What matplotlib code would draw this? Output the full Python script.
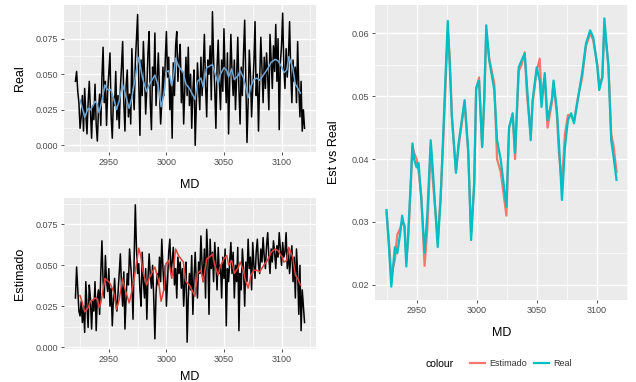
import numpy as np
import matplotlib
matplotlib.use("Agg")
import matplotlib.pyplot as plt
from matplotlib.lines import Line2D

plt.rcParams['font.family'] = ['Liberation Sans', 'DejaVu Sans']

# raw logs, one sample per foot
md_raw = np.arange(2921, 3121)
real_raw = [
    0.045, 0.052, 0.038, 0.030, 0.012, 0.020, 0.035, 0.010, 0.040, 0.022,
    0.008, 0.030, 0.045, 0.025, 0.005, 0.028, 0.018, 0.043, 0.015, 0.003,
    0.025, 0.036, 0.014, 0.048, 0.069, 0.030, 0.045, 0.014, 0.038, 0.052,
    0.065, 0.020, 0.005, 0.034, 0.028, 0.052, 0.018, 0.035, 0.012, 0.040,
    0.055, 0.073, 0.030, 0.010, 0.042, 0.053, 0.020, 0.036, 0.015, 0.068,
    0.040, 0.025, 0.058, 0.075, 0.092, 0.045, 0.007, 0.060, 0.035, 0.073,
    0.050, 0.022, 0.040, 0.065, 0.080, 0.030, 0.011, 0.055, 0.042, 0.079,
    0.028, 0.046, 0.065, 0.038, 0.015, 0.030, 0.055, 0.035, 0.060, 0.080,
    0.048, 0.062, 0.025, 0.044, 0.005, 0.058, 0.035, 0.070, 0.080, 0.045,
    0.060, 0.071, 0.030, 0.052, 0.015, 0.040, 0.062, 0.035, 0.069, 0.028,
    0.050, 0.012, 0.038, 0.053, 0.000, 0.030, 0.058, 0.040, 0.025, 0.062,
    0.035, 0.055, 0.078, 0.042, 0.020, 0.060, 0.050, 0.070, 0.032, 0.094,
    0.060, 0.040, 0.012, 0.055, 0.074, 0.045, 0.025, 0.060, 0.038, 0.082,
    0.050, 0.030, 0.065, 0.008, 0.045, 0.078, 0.052, 0.035, 0.060, 0.025,
    0.048, 0.076, 0.040, 0.015, 0.055, 0.035, 0.065, 0.088, 0.045, 0.002,
    0.030, 0.067, 0.050, 0.020, 0.040, 0.058, 0.087, 0.035, 0.050, 0.010,
    0.045, 0.076, 0.055, 0.030, 0.062, 0.040, 0.065, 0.048, 0.025, 0.078,
    0.060, 0.040, 0.070, 0.052, 0.085, 0.045, 0.075, 0.011, 0.058, 0.070,
    0.093, 0.055, 0.040, 0.068, 0.048, 0.062, 0.087, 0.052, 0.030, 0.060,
    0.045, 0.055, 0.030, 0.073, 0.040, 0.020, 0.045, 0.010, 0.025, 0.012,
]
est_raw = [
    0.030, 0.049, 0.035, 0.022, 0.019, 0.028, 0.015, 0.025, 0.009, 0.040,
    0.025, 0.012, 0.038, 0.030, 0.011, 0.028, 0.022, 0.040, 0.010, 0.030,
    0.035, 0.020, 0.045, 0.065, 0.040, 0.030, 0.056, 0.040, 0.034, 0.048,
    0.025, 0.036, 0.013, 0.030, 0.042, 0.028, 0.022, 0.033, 0.045, 0.057,
    0.038, 0.025, 0.046, 0.011, 0.030, 0.045, 0.038, 0.060, 0.050, 0.040,
    0.017, 0.055, 0.087, 0.060, 0.045, 0.051, 0.035, 0.025, 0.058, 0.040,
    0.030, 0.048, 0.017, 0.042, 0.057, 0.044, 0.036, 0.050, 0.030, 0.005,
    0.033, 0.045, 0.038, 0.055, 0.040, 0.066, 0.048, 0.035, 0.050, 0.025,
    0.040, 0.058, 0.066, 0.045, 0.052, 0.061, 0.038, 0.048, 0.030, 0.055,
    0.045, 0.052, 0.036, 0.048, 0.025, 0.040, 0.052, 0.003, 0.030, 0.045,
    0.035, 0.056, 0.020, 0.042, 0.058, 0.040, 0.030, 0.052, 0.045, 0.068,
    0.050, 0.040, 0.060, 0.030, 0.072, 0.055, 0.020, 0.066, 0.048, 0.058,
    0.040, 0.064, 0.052, 0.035, 0.061, 0.045, 0.050, 0.030, 0.055, 0.042,
    0.060, 0.013, 0.048, 0.040, 0.052, 0.064, 0.045, 0.058, 0.030, 0.050,
    0.040, 0.061, 0.010, 0.045, 0.035, 0.060, 0.048, 0.025, 0.052, 0.040,
    0.066, 0.048, 0.055, 0.035, 0.064, 0.050, 0.042, 0.058, 0.066, 0.050,
    0.045, 0.060, 0.052, 0.067, 0.055, 0.048, 0.062, 0.070, 0.055, 0.045,
    0.060, 0.052, 0.065, 0.058, 0.048, 0.062, 0.055, 0.070, 0.060, 0.050,
    0.064, 0.055, 0.058, 0.070, 0.048, 0.060, 0.045, 0.054, 0.062, 0.040,
    0.055, 0.030, 0.060, 0.045, 0.020, 0.050, 0.010, 0.035, 0.025, 0.015,
]

# smoothed curves
md_smooth = [
    2925, 2927, 2929, 2932, 2934, 2936.5, 2938, 2940, 2941.5, 2943,
    2945, 2946.6, 2948, 2950, 2951.7, 2954, 2956.7, 2959, 2961.8, 2963.4,
    2966, 2967.6, 2970, 2972, 2974.4, 2976, 2977.7, 2979.4, 2982.8, 2985,
    2990, 2993, 2995.4, 2998, 2999.6, 3002, 3004.6, 3006.3, 3008, 3010.5,
    3014.7, 3017, 3020, 3024.8, 3027, 3030, 3032, 3035, 3037.4, 3040,
    3042, 3045, 3046.6, 3050, 3052.5, 3054, 3056.7, 3059, 3062.6, 3064,
    3066.8, 3068.5, 3071, 3073.5, 3076, 3078.6, 3081, 3084.5, 3087.8, 3091,
    3094.5, 3097, 3100.5, 3102, 3104.6, 3106.3, 3109.7, 3112, 3114, 3116.4,
]
real_smooth = [
    0.0319, 0.0260, 0.0197, 0.0260, 0.0250, 0.0283, 0.0310, 0.0290, 0.0229, 0.0280,
    0.0356, 0.0425, 0.0400, 0.0387, 0.0394, 0.0335, 0.0251, 0.0314, 0.0430, 0.0387,
    0.0308, 0.0260, 0.0335, 0.0430, 0.0546, 0.0620, 0.0546, 0.0467, 0.0378, 0.0425,
    0.0494, 0.0414, 0.0271, 0.0362, 0.0514, 0.0525, 0.0419, 0.0494, 0.0613, 0.0557,
    0.0510, 0.0430, 0.0400, 0.0324, 0.0450, 0.0473, 0.0410, 0.0546, 0.0557, 0.0568,
    0.0514, 0.0430, 0.0494, 0.0546, 0.0525, 0.0483, 0.0537, 0.0462, 0.0494, 0.0525,
    0.0478, 0.0425, 0.0335, 0.0419, 0.0462, 0.0473, 0.0457, 0.0498, 0.0537, 0.0584,
    0.0605, 0.0594, 0.0546, 0.0510, 0.0530, 0.0624, 0.0546, 0.0430, 0.0403, 0.0367,
]
est_smooth = [
    0.0315, 0.0270, 0.0215, 0.0240, 0.0280, 0.0290, 0.0300, 0.0295, 0.0240, 0.0270,
    0.0350, 0.0420, 0.0410, 0.0400, 0.0380, 0.0340, 0.0230, 0.0290, 0.0420, 0.0370,
    0.0310, 0.0270, 0.0340, 0.0420, 0.0530, 0.0605, 0.0560, 0.0470, 0.0380, 0.0420,
    0.0490, 0.0410, 0.0280, 0.0360, 0.0510, 0.0530, 0.0420, 0.0490, 0.0600, 0.0560,
    0.0520, 0.0400, 0.0380, 0.0310, 0.0450, 0.0470, 0.0400, 0.0540, 0.0550, 0.0570,
    0.0500, 0.0440, 0.0490, 0.0540, 0.0560, 0.0500, 0.0530, 0.0450, 0.0490, 0.0520,
    0.0470, 0.0410, 0.0360, 0.0440, 0.0470, 0.0470, 0.0460, 0.0500, 0.0530, 0.0580,
    0.0600, 0.0590, 0.0550, 0.0520, 0.0530, 0.0610, 0.0550, 0.0440, 0.0420, 0.0380,
]

md_ticks = [2950, 3000, 3050, 3100]

W, H = 636, 382
fig = plt.figure(figsize=(W / 100, H / 100), dpi=100)


def box(l, t, r, b):
    return [l / W, 1 - b / H, (r - l) / W, (b - t) / H]


def gg_style(ax, yticks):
    ax.set_facecolor('#EBEBEB')
    for s in ax.spines.values():
        s.set_visible(False)
    ax.set_xticks(md_ticks)
    ax.set_yticks(yticks)
    ax.set_xticks([t + 25 for t in [2900] + md_ticks], minor=True)
    step = yticks[1] - yticks[0]
    ax.set_yticks([yticks[0] - step / 2] + [t + step / 2 for t in yticks], minor=True)
    ax.grid(which='major', color='white', lw=1.0)
    ax.grid(which='minor', color='white', lw=0.5)
    ax.set_axisbelow(True)
    ax.tick_params(which='major', length=2.5, width=0.6, color='#333333',
                   labelsize=6.5, labelcolor='#4D4D4D', pad=2)
    ax.tick_params(which='minor', length=0)


def expand(vals, f=0.05):
    lo, hi = min(vals), max(vals)
    d = (hi - lo) * f
    return lo - d, hi + d


# top left: Real
ax1 = fig.add_axes(box(64, 5, 316, 152))
ax1.plot(md_raw, real_raw, color='black', lw=1.1)
ax1.plot(md_smooth, real_smooth, color='#6FA8D6', lw=1.1)
gg_style(ax1, [0.000, 0.025, 0.050, 0.075])
ax1.set_yticklabels(['0.000', '0.025', '0.050', '0.075'])
ax1.set_xlim(expand(md_raw))
ax1.set_ylim(expand(real_raw))
ax1.set_xlabel('MD', fontsize=9)
ax1.set_ylabel('Real', fontsize=9)
ax1.xaxis.set_label_coords(0.5, -0.185)
ax1.yaxis.set_label_coords(-0.15, 0.5)

# bottom left: Estimado
ax2 = fig.add_axes(box(64, 198, 316, 349))
ax2.plot(md_raw, est_raw, color='black', lw=1.1)
ax2.plot(md_smooth, est_smooth, color='#E0413A', lw=1.1)
gg_style(ax2, [0.000, 0.025, 0.050, 0.075])
ax2.set_yticklabels(['0.000', '0.025', '0.050', '0.075'])
ax2.set_xlim(expand(md_raw))
ax2.set_ylim(expand(est_raw))
ax2.set_xlabel('MD', fontsize=9)
ax2.set_ylabel('Estimado', fontsize=9)
ax2.xaxis.set_label_coords(0.5, -0.145)
ax2.yaxis.set_label_coords(-0.15, 0.5)

# right: Est vs Real
ax3 = fig.add_axes(box(375, 5, 628, 300))
ax3.plot(md_smooth, est_smooth, color='#F8766D', lw=1.6)
ax3.plot(md_smooth, real_smooth, color='#00BFC4', lw=1.6)
gg_style(ax3, [0.02, 0.03, 0.04, 0.05, 0.06])
ax3.set_yticklabels(['0.02', '0.03', '0.04', '0.05', '0.06'])
ax3.set_xlim(expand(md_smooth))
ax3.set_ylim(expand(real_smooth + est_smooth))
ax3.set_xlabel('MD', fontsize=9)
ax3.set_ylabel('Est vs Real', fontsize=9)
ax3.xaxis.set_label_coords(0.5, -0.092)
ax3.yaxis.set_label_coords(-0.14, 0.5)

# legend
fig.text(440 / W, 1 - 364 / H, 'colour', fontsize=7.5, ha='center', va='center')
handles = [Line2D([], [], color='#F8766D', lw=1.6), Line2D([], [], color='#00BFC4', lw=1.6)]
leg = fig.legend(handles, ['Estimado', 'Real'], ncol=2, loc='center',
                 bbox_to_anchor=(521 / W, 1 - 364 / H), frameon=False,
                 fontsize=6.5, handlelength=1.6, handletextpad=0.5,
                 columnspacing=0.8, borderpad=0)
for t in leg.get_texts():
    t.set_color('#333333')

fig.savefig('out.png', dpi=100)
